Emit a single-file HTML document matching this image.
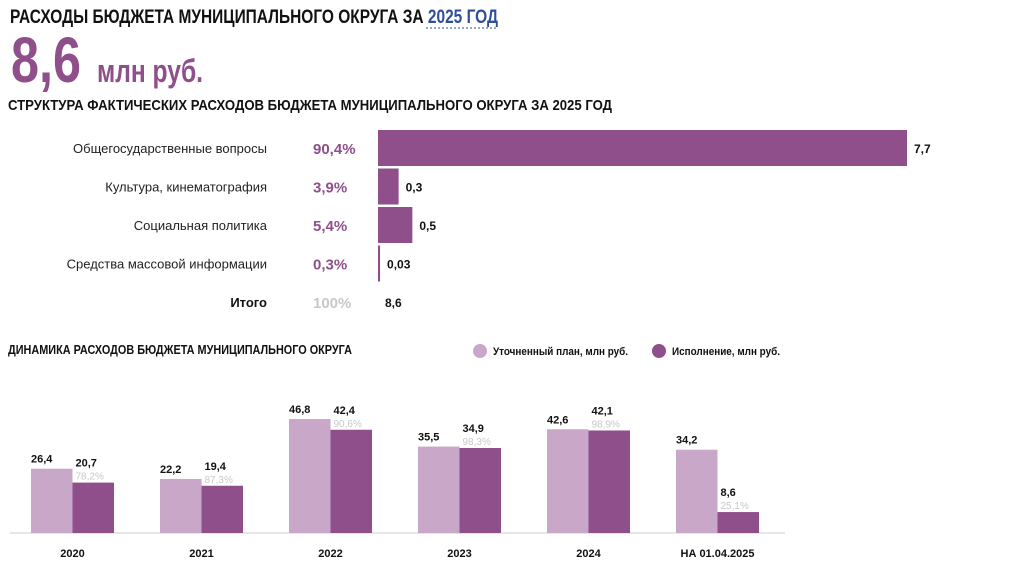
<!DOCTYPE html>
<html><head><meta charset="utf-8"><style>
body{margin:0;background:#fff;}
svg{display:block;font-family:"Liberation Sans Narrow","Liberation Sans",sans-serif;}
</style></head><body>
<svg id="s" width="1024" height="574" viewBox="0 0 1024 574">
<text x="10" y="23" font-size="19" font-weight="bold" fill="#111" textLength="488" lengthAdjust="spacingAndGlyphs">РАСХОДЫ БЮДЖЕТА МУНИЦИПАЛЬНОГО ОКРУГА ЗА <tspan fill="#2f4f9a">2025 ГОД</tspan></text>
<line x1="426" y1="28" x2="497" y2="28" stroke="#2f4f9a" stroke-dasharray="2,2"/>
<text x="11" y="82" font-size="64" font-weight="bold" fill="#8e4f8a" textLength="70" lengthAdjust="spacingAndGlyphs">8,6</text>
<text x="97" y="82" font-size="32" font-weight="bold" fill="#8e4f8a" textLength="106" lengthAdjust="spacingAndGlyphs">млн руб.</text>
<text x="8" y="110" font-size="15" font-weight="bold" fill="#111" textLength="604" lengthAdjust="spacingAndGlyphs">СТРУКТУРА ФАКТИЧЕСКИХ РАСХОДОВ БЮДЖЕТА МУНИЦИПАЛЬНОГО ОКРУГА ЗА 2025 ГОД</text>
<g id="hbars"></g>
<text x="8" y="354" font-size="13" font-weight="bold" fill="#111" textLength="344" lengthAdjust="spacingAndGlyphs">ДИНАМИКА РАСХОДОВ БЮДЖЕТА МУНИЦИПАЛЬНОГО ОКРУГА</text>
<circle cx="480" cy="351" r="7" fill="#c9a7c8"/>
<text x="493" y="355" font-size="11" font-weight="bold" fill="#111" textLength="135" lengthAdjust="spacingAndGlyphs">Уточненный план, млн руб.</text>
<circle cx="659" cy="351" r="7" fill="#8e4f8a"/>
<text x="672" y="355" font-size="11" font-weight="bold" fill="#111" textLength="108" lengthAdjust="spacingAndGlyphs">Исполнение, млн руб.</text>
<line x1="10" y1="533" x2="785" y2="533" stroke="#ddd" stroke-width="1.5"/>
<g id="vbars"></g>
</svg>
<script>
const catNames=["Общегосударственные вопросы","Культура, кинематография","Социальная политика","Средства массовой информации"];
const catPct=["90,4%","3,9%","5,4%","0,3%"];
const catVals=[7.7,0.3,0.5,0.03];
const catLabels=["7,7","0,3","0,5","0,03"];
const totalLabel="8,6";
const years=["2020","2021","2022","2023","2024","НА 01.04.2025"];
const plan=[26.4,22.2,46.8,35.5,42.6,34.2];
const exec=[20.7,19.4,42.4,34.9,42.1,8.6];
const execPct=["78,2%","87,3%","90,6%","98,3%","98,9%","25,1%"];
const NS="http://www.w3.org/2000/svg";
function mk(tag,attrs,parent,txt){const e=document.createElementNS(NS,tag);for(const k in attrs)e.setAttribute(k,attrs[k]);if(txt!=null)e.textContent=txt;parent.appendChild(e);return e;}
const hx=v=>378+v*68.7, rowY=i=>148+i*38.5;
const hg=document.getElementById('hbars');
catVals.forEach((v,i)=>{
 const y=rowY(i);
 let t=mk('text',{x:267,y:y+5,'font-size':13,'text-anchor':'end',fill:'#222'},hg,catNames[i]);
 
 
 t=mk('text',{x:313,y:y+6,'font-size':15,'font-weight':'bold',fill:'#8e4f8a'},hg,catPct[i]);
 
 
 const w=Math.max(hx(v)-378,2);
 const r=mk('rect',{x:378,y:y-18,width:w,height:36,fill:'#8e4f8a'},hg);
 
 
 t=mk('text',{x:378+w+7,y:y+5,'font-size':12,'font-weight':'bold',fill:'#111'},hg,catLabels[i]);
 
 
});
const ty=rowY(4);
let tt=mk('text',{x:267,y:ty+5,'font-size':13,'font-weight':'bold','text-anchor':'end',fill:'#111'},hg,"Итого");


tt=mk('text',{x:313,y:ty+6,'font-size':15,'font-weight':'bold',fill:'#c8c8c8'},hg,"100%");


tt=mk('text',{x:385,y:ty+5,'font-size':12,'font-weight':'bold',fill:'#111'},hg,totalLabel);


const vg=document.getElementById('vbars');
const base=533, ys=v=>base-v*2.435, gx=i=>31+i*129, bw=41.5;
years.forEach((yr,i)=>{
 const x=gx(i);
 let r=mk('rect',{x:x,y:ys(plan[i]),width:bw,height:base-ys(plan[i]),fill:'#c9a7c8'},vg);
 
 
 r=mk('rect',{x:x+bw,y:ys(exec[i]),width:bw,height:base-ys(exec[i]),fill:'#8e4f8a'},vg);
 
 
 let t=mk('text',{x:x,y:ys(plan[i])-6,'font-size':11,'font-weight':'bold',fill:'#111'},vg,plan[i].toFixed(1).replace('.',','));
 
 
 t=mk('text',{x:x+bw+3,y:ys(exec[i])-16,'font-size':11,'font-weight':'bold',fill:'#111'},vg,exec[i].toFixed(1).replace('.',','));
 
 
 t=mk('text',{x:x+bw+3,y:ys(exec[i])-3,'font-size':10,fill:'#c8c8c8'},vg,execPct[i]);
 
 
 t=mk('text',{x:x+bw,y:557,'font-size':11,'font-weight':'bold','text-anchor':'middle',fill:'#111'},vg,yr);
 
 
});
</script>
</body></html>
